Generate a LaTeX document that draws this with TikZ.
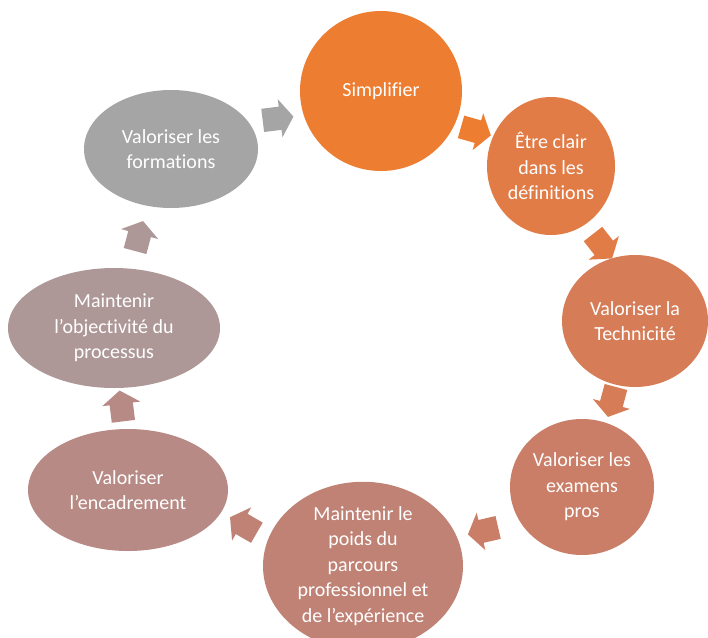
\documentclass[tikz,border=0pt]{standalone}
\usepackage{fontspec}
\setmainfont{Carlito}[Ligatures=NoCommon]
\usetikzlibrary{shapes.geometric,shapes.arrows}

% cores das etapas (laranja -> cinza)
\definecolor{corSimp}{HTML}{ED7D31}
\definecolor{corClair}{HTML}{E17C47}
\definecolor{corTech}{HTML}{D67D58}
\definecolor{corExam}{HTML}{CA7E67}
\definecolor{corPoids}{HTML}{BF8275}
\definecolor{corEncad}{HTML}{B88A85}
\definecolor{corObjec}{HTML}{AE9797}
\definecolor{corForm}{HTML}{A5A5A5}

\tikzset{
  etapa/.style={ellipse, inner sep=0pt, text=white, align=center,
    font=\fontsize{20}{25.5}\selectfont},
  seta/.style={single arrow, draw=none, inner xsep=0pt, inner ysep=11.5pt,
    minimum height=31pt, single arrow head extend=7.5pt,
    single arrow tip angle=110}
}

\begin{document}
\begin{tikzpicture}[x=1pt, y=-1pt]
            \useasboundingbox (0,0) rectangle (708,637);
            % Setas do ciclo (desenhadas antes, ficam por baixo)
            \node at (274,119) (s81) [seta, fill=corForm, rotate=7] {};
            \node at (472,130) (s12) [seta, fill=corSimp, rotate=-16] {};
            \node at (600,243) (s23) [seta, fill=corClair, rotate=-52] {};
            \node at (613,398) (s34) [seta, fill=corTech, rotate=-105] {};
            \node at (487,530) (s45) [seta, fill=corExam, rotate=193] {};
            \node at (247,527) (s56) [seta, fill=corPoids, rotate=150] {};
            \node at (122,410) (s67) [seta, fill=corEncad, rotate=97] {};
            \node at (138,240) (s78) [seta, fill=corObjec, rotate=75] {};
            % Etapas
            \node at (381,91) (simp) [etapa, fill=corSimp, minimum width=162pt, minimum height=160pt] {Simplifier};
            \node at (551,166) (clair) [etapa, fill=corClair, minimum width=128pt, minimum height=138pt] {Être clair\\dans les\\définitions};
            \node at (635,321) (tech) [etapa, fill=corTech, minimum width=146pt, minimum height=132pt] {Valoriser la\\Technicité};
            \node at (582,487) (exam) [etapa, fill=corExam, minimum width=144pt, minimum height=136pt] {Valoriser les\\examens\\pros};
            \node at (363,566) (poids) [etapa, fill=corPoids, minimum width=200pt, minimum height=146pt] {Maintenir le\\poids du\\parcours\\professionnel et\\de l’expérience};
            \node at (128,490) (encad) [etapa, fill=corEncad, minimum width=200pt, minimum height=122pt] {Valoriser\\l’encadrement};
            \node at (114,328) (objec) [etapa, fill=corObjec, minimum width=212pt, minimum height=120pt] {Maintenir\\l’objectivité du\\processus};
            \node at (171,149) (form) [etapa, fill=corForm, minimum width=174pt, minimum height=118pt] {Valoriser les\\formations};
\end{tikzpicture}
\end{document}
